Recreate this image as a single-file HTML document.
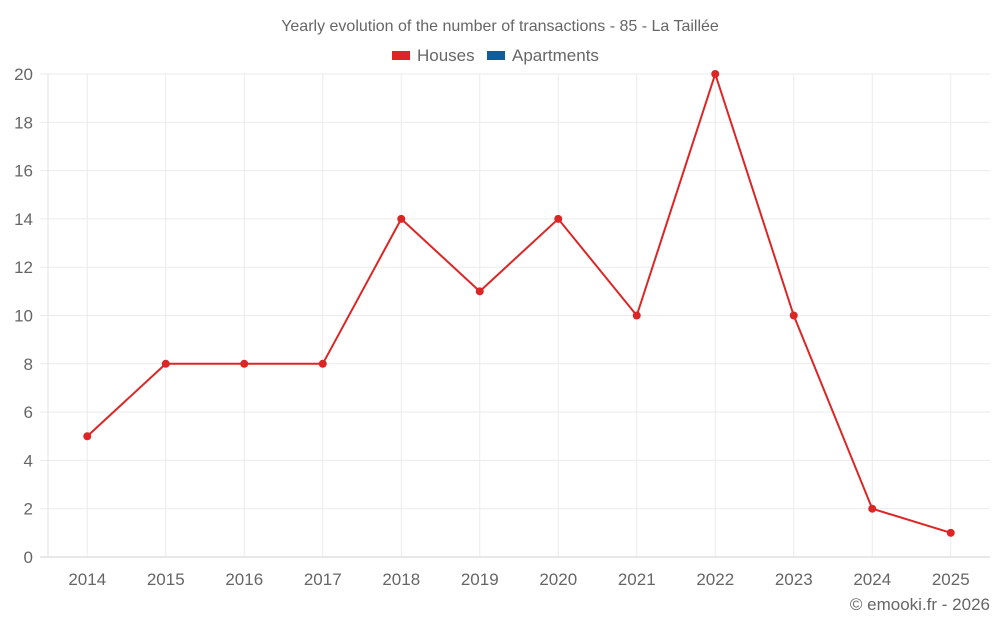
<!DOCTYPE html>
<html><head><meta charset="utf-8"><style>
body{margin:0;background:#fff;font-family:"Liberation Sans",sans-serif}
svg text{font-family:"Liberation Sans",sans-serif;fill:#666}
</style></head><body>
<svg id="c" width="1000" height="625">
<text x="500" y="31" text-anchor="middle" font-size="16">Yearly evolution of the number of transactions - 85 - La Taillée</text>
<g>
<rect x="392" y="51" width="18" height="9" fill="#dc2626"/>
<text x="417" y="61" font-size="17">Houses</text>
<rect x="487" y="51" width="18" height="9" fill="#0b5fa0"/>
<text x="512" y="61" font-size="17">Apartments</text>
</g>
<g id="grid"></g><g id="axes"></g><g id="series"></g>
<text x="990" y="610" text-anchor="end" font-size="17">© emooki.fr - 2026</text>
</svg>
<script>
const categories=["2014","2015","2016","2017","2018","2019","2020","2021","2022","2023","2024","2025"];
const houses=[5,8,8,8,14,11,14,10,20,10,2,1];
const yTicks=[0,2,4,6,8,10,12,14,16,18,20];
const L=48,R=990,T=74,B=557,yMax=20;
const bw=(R-L)/categories.length;
const xs=i=>L+bw*(i+0.5);
const ys=v=>B-(v/yMax)*(B-T);
const NS="http://www.w3.org/2000/svg";
function mk(tag,attrs,parent,txt){const e=document.createElementNS(NS,tag);for(const k in attrs)e.setAttribute(k,attrs[k]);if(txt!==undefined)e.textContent=txt;document.getElementById(parent).appendChild(e);return e;}
yTicks.forEach(v=>{
 const g=mk('line',{x1:40,x2:R,y1:ys(v),y2:ys(v),stroke:v===0?'#d0d0d0':'#ebebeb'},'grid');
 
 
 const t=mk('text',{x:33,y:ys(v)+6,'text-anchor':'end','font-size':17},'axes',v);
 
 
});
const ax=mk('line',{x1:L,x2:L,y1:T,y2:B,stroke:'#e0e0e0'},'grid');


categories.forEach((c,i)=>{
 const g=mk('line',{x1:xs(i),x2:xs(i),y1:T,y2:B,stroke:'#ebebeb'},'grid');
 
 
 const t=mk('text',{x:xs(i),y:585,'text-anchor':'middle','font-size':17},'axes',c);
 
 
});
const p=mk('polyline',{points:houses.map((v,i)=>xs(i)+','+ys(v)).join(' '),fill:'none',stroke:'#dc2626','stroke-width':2},'series');


houses.forEach((v,i)=>{
 const c=mk('circle',{cx:xs(i),cy:ys(v),r:4,fill:'#dc2626'},'series');
 
 
});
</script>
</body></html>
